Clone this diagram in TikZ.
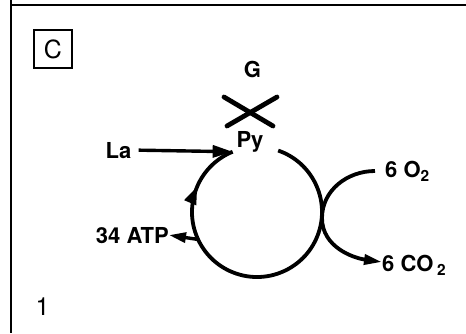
\documentclass[tikz,border=0pt]{standalone}
\usepackage{fontspec}
\setmainfont{TeX Gyre Heros}
\usetikzlibrary{arrows.meta, calc, decorations.markings}

\begin{document}
\begin{tikzpicture}[
  x=1pt, y=1pt,
  tekst/.style={font=\fontsize{22}{25}\selectfont\bfseries, inner sep=2pt},
  krug/.style={line width=3.8pt},
  str/.style={line width=3.4pt, -{Triangle[length=20pt, width=12pt]}},
  malastr/.style={line width=3.4pt, -{Triangle[length=17pt, width=10pt]}},
  kriz/.style={line width=4.8pt, line cap=round},
  vrh/.style={postaction={decorate}, decoration={markings,
    mark=at position #1 with {\arrow{Triangle[length=18pt, width=12pt]}}}}
]
  \useasboundingbox (0,0) rectangle (466,333);
  % okvir ploce
  \draw[line width=2pt] (10.5,333) -- (10.5,0);
  \draw[line width=2pt] (10.5,328) -- (466,328);

  \node[draw, line width=1.6pt, minimum size=38.5pt, inner sep=0pt,
        font=\fontsize{25}{28}\selectfont] (oznC) at (53,284) {C};
  \node[font=\fontsize{25}{28}\selectfont, anchor=base, inner sep=0pt] (broj) at (42.5,18) {1};

  \coordinate (cen) at (257,121);
  \coordinate (pyin) at ($(cen)+(112:65)$);
  \coordinate (atpout) at ($(cen)+(205:65)$);
  \coordinate (o2in) at (375,162);
  \coordinate (dodir) at (322,115);
  \coordinate (co2in) at (382,71);

  \node[tekst, anchor=base] (g) at (252.5,256) {G};
  \node[tekst, anchor=base] (py) at (250,186) {Py};
  \node[tekst, anchor=base] (la) at (118.5,175) {La};
  \node[tekst, anchor=base east, inner sep=0pt] (atp) at (169,90) {34 ATP};
  \node[tekst, anchor=base west] (o2) at (383,156) {6 O\textsubscript{2}};
  \node[tekst, anchor=base west] (co2) at (380,62) {6 CO\,\textsubscript{2}};

  % ciklus
  \draw[krug, vrh=0.86] ($(cen)+(71:65)$)
    arc[start angle=71, end angle=-248, radius=65];

  \draw[str, shorten <=5pt] (la.east) -- (pyin);
  \draw[malastr] (atpout) -- (atp.east);
  \draw[krug, -{Triangle[length=18pt, width=10pt]}] (o2in) to[out=180, in=90] (dodir)
    to[out=-90, in=172] (co2in);

  % blokada G -> Py
  \draw[kriz] (224,236) -- (273,207);
  \draw[kriz] (227,207) -- (277,236);
\end{tikzpicture}
\end{document}
